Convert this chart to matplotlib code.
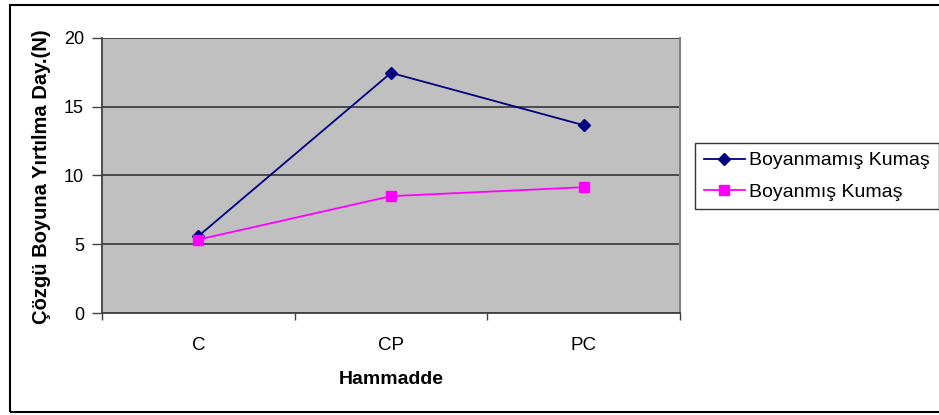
import matplotlib
matplotlib.use("Agg")
import matplotlib.pyplot as plt
from matplotlib.patches import Rectangle
from matplotlib.ticker import FixedLocator, NullFormatter

plt.rcParams['font.family'] = ['Liberation Sans', 'DejaVu Sans']

categories = ["C", "CP", "PC"]
boyanmamis = [5.6, 17.45, 13.65]
boyanmis = [5.35, 8.5, 9.15]
y_ticks = [0, 5, 10, 15, 20]

fig = plt.figure(figsize=(9.39, 4.15), dpi=100)
ax = fig.add_axes([102 / 939, 1 - 313.3 / 415, (680 - 102) / 939, (313.3 - 37.7) / 415])
ax.set_facecolor("#C0C0C0")

x = list(range(len(categories)))
ax.plot(x, boyanmamis, color="#000080", lw=1.3, marker="D", ms=6.5,
        label="Boyanmamış Kumaş", zorder=3)
ax.plot(x, boyanmis, color="#FF00FF", lw=1.3, marker="s", ms=7,
        label="Boyanmış Kumaş", zorder=3)

ax.set_xlim(-0.5, len(categories) - 0.5)
ax.set_ylim(0, 20)
ax.set_yticks(y_ticks)
ax.yaxis.grid(True, color="#404040", lw=1.3)
ax.set_axisbelow(True)

# category boundaries carry the x ticks, labels sit in between
ax.xaxis.set_major_locator(FixedLocator([i - 0.5 for i in range(len(categories) + 1)]))
ax.xaxis.set_major_formatter(NullFormatter())
ax.set_xticks(x, minor=True)
ax.set_xticklabels(categories, minor=True)
ax.tick_params(axis="x", which="minor", length=0, pad=17, labelsize=13.5)
ax.tick_params(axis="x", which="major", length=5, width=1, color="#404040", direction="out")
ax.tick_params(axis="y", length=7, width=1, color="#404040", direction="out", labelsize=13, pad=6)

for s in ["left", "bottom"]:
    ax.spines[s].set_color("#404040")
    ax.spines[s].set_linewidth(1.3)
ax.spines["top"].set_visible(False)
ax.spines["right"].set_color("#808080")
ax.spines["right"].set_linewidth(1.5)

ax.set_xlabel("Hammadde", fontsize=14, fontweight="bold", labelpad=12)
fig.text(42 / 939, 1 - 177 / 415, "Çözgü Boyuna Yırtılma Day.(N)", rotation=90,
         ha="center", va="center", fontsize=14.5, fontweight="bold")

leg = fig.legend(loc="upper left", bbox_to_anchor=(695 / 939, 1 - 143 / 415),
                 fontsize=14, frameon=True, fancybox=False, borderaxespad=0,
                 handlelength=2.1, handletextpad=0.25, borderpad=0.45, labelspacing=0.7)
leg.get_frame().set_edgecolor("black")
leg.get_frame().set_linewidth(1.0)

# outer chart border
fig.patches.append(Rectangle((10 / 939, 1 - 412 / 415), 1.0, (412 - 5) / 415,
                             transform=fig.transFigure, fill=False,
                             edgecolor="black", lw=1.5, zorder=0))

fig.savefig("out.png", dpi=100, facecolor="white")
